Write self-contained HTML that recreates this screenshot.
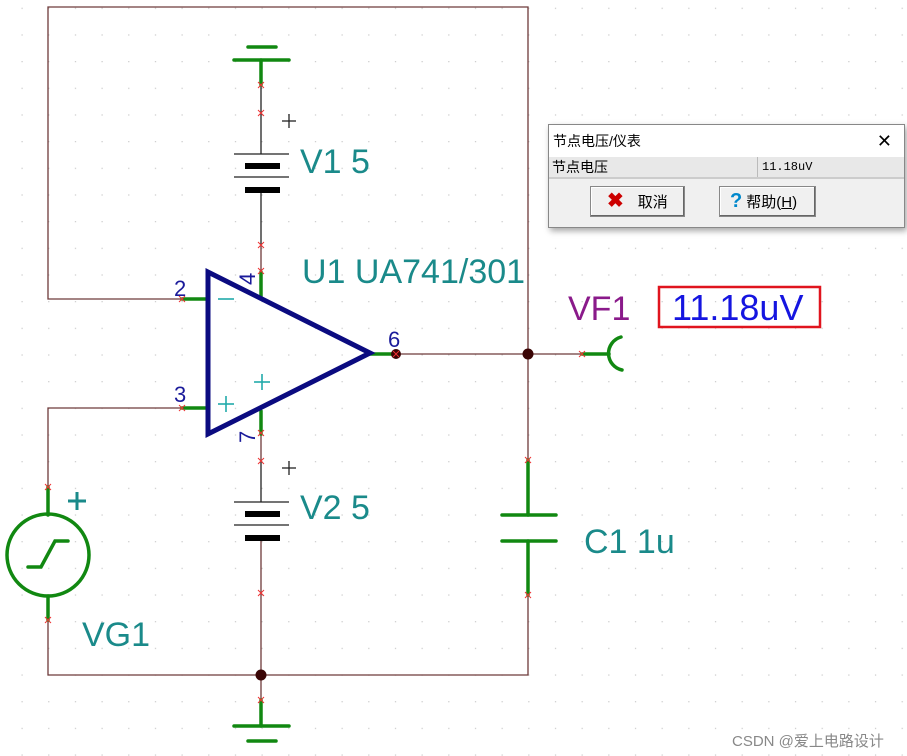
<!DOCTYPE html>
<html><head><meta charset="utf-8"><style>
body{margin:0;width:907px;height:756px;overflow:hidden;background:#fff;position:relative;font-family:"Liberation Sans","Noto Sans CJK SC",sans-serif}
svg{position:absolute;left:0;top:0}
.dlg{position:absolute;left:548px;top:124px;width:355px;height:102px;background:#f0f0f0;border:1px solid #888;box-shadow:2px 3px 6px rgba(0,0,0,.35);font-size:14px}
.tb{background:#fff;height:32px;line-height:32px;padding-left:4px;position:relative}
.row{height:20px;line-height:20px;background:#e8e8e8;border-bottom:2px solid #ccc;position:relative;padding-left:3px}
.btn{position:absolute;top:61px;height:29px;border:1px solid #888;background:#f0f0f0;box-shadow:inset -1px -1px 0 #666, inset 1px 1px 0 #fff;line-height:29px;font-size:15px}
</style></head><body>
<svg width="907" height="756" xmlns="http://www.w3.org/2000/svg">
<defs><pattern id="g" x="21.5" y="7.7" width="26.67" height="26.67" patternUnits="userSpaceOnUse"><rect width="1.2" height="1.2" fill="#c8c8c8"/></pattern></defs>
<rect width="907" height="756" fill="url(#g)"/>
<g stroke="#6e3a3a" stroke-width="1.3" fill="none">
<polyline points="182,299 48,299 48,7 528,7 528,460"/>
<polyline points="182,408 48,408 48,487"/>
<polyline points="48,620 48,675 528,675 528,595"/>
<line x1="396" y1="354" x2="582" y2="354"/>
<line x1="261" y1="540" x2="261" y2="700"/>
<line x1="261" y1="434" x2="261" y2="461"/>
<line x1="261" y1="245" x2="261" y2="272"/>
</g>
<g stroke="#222" stroke-width="1.3">
<line x1="261" y1="85" x2="261" y2="154"/><line x1="261" y1="193" x2="261" y2="245"/>
<line x1="234" y1="154" x2="289" y2="154"/><line x1="234" y1="177" x2="289" y2="177"/>
<line x1="261" y1="461" x2="261" y2="502"/><line x1="261" y1="538" x2="261" y2="540"/>
<line x1="234" y1="502" x2="289" y2="502"/><line x1="234" y1="525" x2="289" y2="525"/>
<line x1="282" y1="121" x2="296" y2="121"/><line x1="289" y1="114" x2="289" y2="128"/>
<line x1="282" y1="468" x2="296" y2="468"/><line x1="289" y1="461" x2="289" y2="475"/>
</g>
<g fill="#000"><rect x="245" y="163" width="35" height="6"/><rect x="245" y="187" width="35" height="6"/><rect x="245" y="511" width="35" height="6"/><rect x="245" y="535" width="35" height="6"/></g>
<g stroke="#118811" stroke-width="3.5" fill="none" stroke-linecap="round">
<line x1="248" y1="47" x2="276" y2="47"/><line x1="234" y1="60" x2="289" y2="60"/><line x1="261" y1="60" x2="261" y2="85"/>
<line x1="182" y1="299" x2="208" y2="299"/><line x1="182" y1="408" x2="208" y2="408"/>
<line x1="261" y1="272" x2="261" y2="296"/><line x1="261" y1="411" x2="261" y2="434"/>
<line x1="370" y1="354" x2="396" y2="354"/><line x1="582" y1="354" x2="609" y2="354"/>
<path d="M621,337 A17,17 0 0 0 622,370"/>
<line x1="528" y1="460" x2="528" y2="515"/><line x1="502" y1="515" x2="556" y2="515"/><line x1="502" y1="541" x2="556" y2="541"/><line x1="528" y1="541" x2="528" y2="595"/>
<line x1="48" y1="487" x2="48" y2="515"/><line x1="48" y1="596" x2="48" y2="620"/>
<circle cx="48" cy="555" r="41"/>
<polyline points="28,567 41,567 55,541 68,541"/>
<line x1="261" y1="700" x2="261" y2="726"/><line x1="234" y1="726" x2="289" y2="726"/><line x1="248" y1="741" x2="276" y2="741"/>
</g>
<polygon points="208,272 208,434 370,353" fill="none" stroke="#0b0b80" stroke-width="5" stroke-linejoin="miter"/>
<g stroke="#2aa" stroke-width="1.6"><line x1="218" y1="299" x2="234" y2="299"/><line x1="218" y1="404" x2="234" y2="404"/><line x1="226" y1="396" x2="226" y2="412"/><line x1="254" y1="382" x2="270" y2="382"/><line x1="262" y1="374" x2="262" y2="390"/></g>
<g stroke="#1a8a8a" stroke-width="3"><line x1="68" y1="501" x2="86" y2="501"/><line x1="77" y1="492" x2="77" y2="510"/></g>
<g fill="#3a0505"><circle cx="528" cy="354" r="5.5"/><circle cx="261" cy="675" r="5.5"/><circle cx="396" cy="354" r="5"/></g>
<g stroke="#e33" stroke-width="1"><path d="M179,296l6,6m0,-6l-6,6M179,405l6,6m0,-6l-6,6M258,82l6,6m0,-6l-6,6M258,110l6,6m0,-6l-6,6M258,242l6,6m0,-6l-6,6M258,458l6,6m0,-6l-6,6M258,430l6,6m0,-6l-6,6M258,268l6,6m0,-6l-6,6M258,590l6,6m0,-6l-6,6M258,697l6,6m0,-6l-6,6M525,457l6,6m0,-6l-6,6M525,592l6,6m0,-6l-6,6M579,351l6,6m0,-6l-6,6M45,484l6,6m0,-6l-6,6M45,617l6,6m0,-6l-6,6M393,351l6,6m0,-6l-6,6"/></g>
<g font-family="Liberation Sans, sans-serif">
<text x="174" y="296" font-size="22" fill="#1a1a9a">2</text>
<text x="174" y="402" font-size="22" fill="#1a1a9a">3</text>
<text x="388" y="347" font-size="22" fill="#1a1a9a">6</text>
<text transform="translate(255,285) rotate(-90)" font-size="22" fill="#1a1a9a">4</text>
<text transform="translate(255,443) rotate(-90)" font-size="22" fill="#1a1a9a">7</text>
<text x="300" y="173" font-size="34" fill="#1a8a8a">V1 5</text>
<text x="300" y="519" font-size="34" fill="#1a8a8a">V2 5</text>
<text x="302" y="283" font-size="34" fill="#1a8a8a">U1 UA741/301</text>
<text x="584" y="553" font-size="34" fill="#1a8a8a">C1 1u</text>
<text x="82" y="646" font-size="34" fill="#1a8a8a">VG1</text>
<text x="568" y="320" font-size="34" fill="#8a1a8a">VF1</text>
<rect x="659" y="287" width="161" height="40" fill="none" stroke="#e0141e" stroke-width="2.5"/>
<text x="672" y="320" font-size="36" fill="#1515e0">11.18uV</text>
<text x="732" y="746" font-size="15" fill="#888" font-family="Liberation Sans, Noto Sans CJK SC, sans-serif">CSDN @爱上电路设计</text>
</g>
</svg>
<div class="dlg">
<div class="tb">节点电压/仪表<span style="position:absolute;right:12px;top:0;font-size:18px">✕</span></div>
<div class="row">节点电压<span style="position:absolute;left:208px;top:0;border-left:1px solid #bbb;padding-left:4px;height:20px;font-family:'Liberation Mono',monospace;font-size:12px">11.18uV</span></div>
<div class="btn" style="left:41px;width:93px"><span style="color:#c00;font-weight:bold;font-size:20px;margin-left:16px">✖</span><span style="margin-left:14px">取消</span></div>
<div class="btn" style="left:170px;width:95px"><span style="color:#08c;font-weight:bold;font-size:20px;margin-left:10px">?</span><span style="margin-left:4px">帮助(<u>H</u>)</span></div>
</div>
</body></html>
